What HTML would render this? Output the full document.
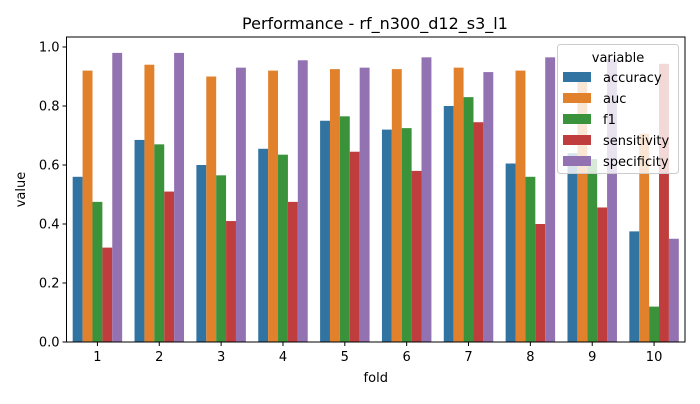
<!DOCTYPE html>
<html><head><meta charset="utf-8"><style>
body{margin:0;background:#fff;font-family:"DejaVu Sans","Liberation Sans",sans-serif}
svg text{font-family:"DejaVu Sans","Liberation Sans",sans-serif}
</style></head><body>
<svg id="chart" width="700" height="400" xmlns="http://www.w3.org/2000/svg">
<rect width="700" height="400" fill="#fff"/>
<text x="375" y="29" text-anchor="middle" font-size="16" fill="#000">Performance - rf_n300_d12_s3_l1</text>
<g id="bars"></g>
<g id="axes"></g>
</svg>
<script>
const folds = ["1","2","3","4","5","6","7","8","9","10"];
const seriesNames = ["accuracy","auc","f1","sensitivity","specificity"];
const accuracy = [0.56,0.685,0.60,0.655,0.75,0.72,0.80,0.605,0.64,0.375];
const auc = [0.92,0.94,0.90,0.92,0.925,0.925,0.93,0.92,0.91,0.706];
const f1 = [0.475,0.67,0.565,0.635,0.765,0.725,0.83,0.56,0.62,0.12];
const sensitivity = [0.32,0.51,0.41,0.475,0.645,0.58,0.745,0.40,0.456,0.943];
const specificity = [0.98,0.98,0.93,0.955,0.93,0.965,0.915,0.965,0.96,0.35];
const yTicks = [0.0,0.2,0.4,0.6,0.8,1.0];
const colors = ["#3274a1","#e1812c","#3a923a","#c03d3e","#9372b2"];
const seriesData = [accuracy,auc,f1,sensitivity,specificity];
const L=66.5,R=685,T=37,B=342;
const NS="http://www.w3.org/2000/svg";
const step=(R-L)/folds.length, bw=step*0.8/5;
function xs(i){return L+step*(i+0.5);}
function ys(v){return B-v*295;}
function mk(tag,attrs,parent){const e=document.createElementNS(NS,tag);for(const k in attrs)e.setAttribute(k,attrs[k]);parent.appendChild(e);return e;}
const gb=document.getElementById('bars'), ga=document.getElementById('axes');
seriesData.forEach((arr,s)=>{arr.forEach((v,i)=>{
  const x=xs(i)-step*0.4+s*bw;
  const r=mk('rect',{x:x,y:ys(v),width:bw,height:B-ys(v),fill:colors[s]},gb);
  
  
});});
const frame=mk('rect',{x:L,y:T,width:R-L,height:B-T,fill:'none',stroke:'#000','stroke-width':1},ga);


yTicks.forEach(t=>{
  const y=ys(t);
  mk('line',{x1:L-4,x2:L,y1:y,y2:y,stroke:'#000'},ga);
  const tx=mk('text',{x:L-7,y:y+4.5,'text-anchor':'end','font-size':13},ga);
  tx.textContent=t.toFixed(1);
  
  
});
folds.forEach((f,i)=>{
  const x=xs(i);
  mk('line',{x1:x,x2:x,y1:B,y2:B+4,stroke:'#000'},ga);
  const tx=mk('text',{x:x,y:B+19,'text-anchor':'middle','font-size':13},ga);
  tx.textContent=f;
  
  
});
const xl=mk('text',{x:(L+R)/2,y:382,'text-anchor':'middle','font-size':13},ga);
xl.textContent='fold';


const yl=mk('text',{x:25,y:(T+B)/2,'text-anchor':'middle','font-size':13,transform:'rotate(-90 25 '+((T+B)/2)+')'},ga);
yl.textContent='value';


// legend
const lg=mk('g',{},ga);


mk('rect',{x:557.5,y:44.5,width:121,height:129,rx:3,fill:'#fff','fill-opacity':0.8,stroke:'#ccc'},lg);
const lt=mk('text',{x:618,y:62,'text-anchor':'middle','font-size':13},lg);
lt.textContent='variable';


seriesNames.forEach((n,s)=>{
  const y=77+s*21;
  const g=mk('g',{},lg);
  
  
  mk('rect',{x:563,y:y-5,width:28,height:10,fill:colors[s]},g);
  const t=mk('text',{x:603,y:y+5,'font-size':13},g);
  t.textContent=n;
});
</script>
</body></html>
